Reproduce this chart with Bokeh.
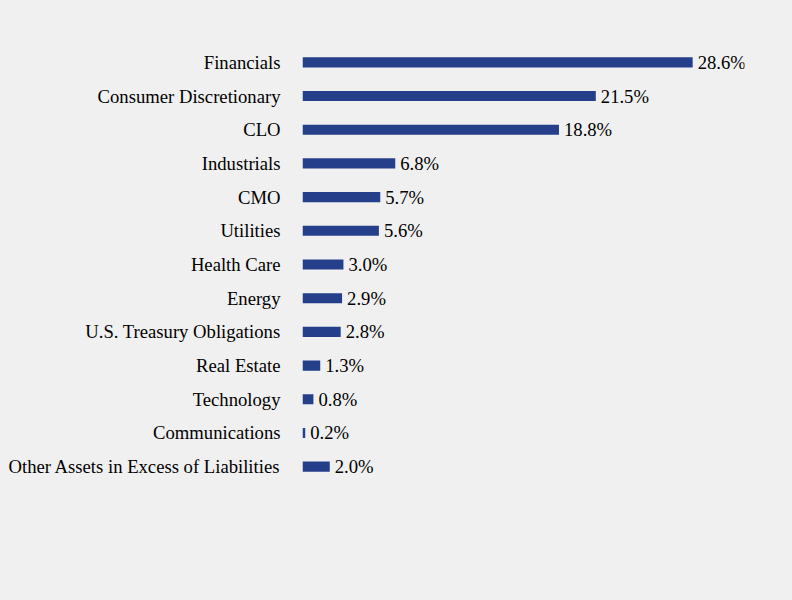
from bokeh.plotting import figure
from bokeh.models import ColumnDataSource, Range1d, GlobalInlineStyleSheet
from bokeh.core.properties import value
from bokeh.embed import file_html
from bokeh.resources import INLINE

categories = ["Financials", "Consumer Discretionary", "CLO", "Industrials", "CMO",
              "Utilities", "Health Care", "Energy", "U.S. Treasury Obligations",
              "Real Estate", "Technology", "Communications",
              "Other Assets in Excess of Liabilities"]
values = [28.6, 21.5, 18.8, 6.8, 5.7, 5.6, 3.0, 2.9, 2.8, 1.3, 0.8, 0.2, 2.0]
labels = [f"{v:.1f}%" for v in values]

BG = "#f0f0f0"
BAR = "#263f8a"
FONT = "Liberation Serif"

src = ColumnDataSource(dict(cat=categories, val=values, lab=labels))

p = figure(width=792, height=600, y_range=list(reversed(categories)),
           x_range=Range1d(0, 32.4), output_backend="svg", toolbar_location=None,
           min_border_left=302, min_border_right=48, min_border_top=45,
           min_border_bottom=117)
p.background_fill_color = BG
p.border_fill_color = BG
p.outline_line_color = None
p.grid.visible = False
p.xaxis.visible = False
p.y_range.range_padding = 0

p.hbar(y="cat", right="val", left=0, height=0.3, source=src,
       fill_color=BAR, line_color=None)
p.text(x="val", y="cat", text="lab", source=src, x_offset=5,
       text_baseline="middle", text_align="left", text_color="black",
       text_font=value(FONT), text_font_size="18.67px")

ax = p.yaxis[0]
ax.axis_line_color = None
ax.major_tick_line_color = None
ax.minor_tick_line_color = None
ax.major_tick_out = 0
ax.major_tick_in = 0
ax.major_label_standoff = 22
ax.major_label_text_font = FONT
ax.major_label_text_font_size = "18.67px"
ax.major_label_text_color = "black"

p.stylesheets = [GlobalInlineStyleSheet(css="body{background:#f0f0f0;}")]

open("out.html", "w").write(file_html(p, INLINE))
